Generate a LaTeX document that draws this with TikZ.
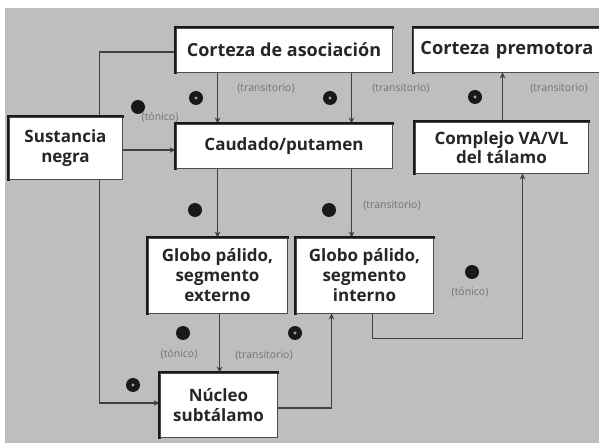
\documentclass[tikz,border=0pt]{standalone}
\usepackage{fontspec}
\setmainfont{Open Sans}
\newfontfamily\boxfont{Open Sans}
\usetikzlibrary{arrows.meta}
\pgfdeclarelayer{bglayer}
\pgfsetlayers{bglayer,main}
\definecolor{bggray}{HTML}{BEBEBE}
\tikzset{
  box/.style={fill=white, draw=black!70, line width=0.9pt, inner sep=3pt, align=center,
    font=\boxfont\bfseries\fontsize{17}{20}\selectfont, text=black!85,
    append after command={\pgfextra{\draw[black!90, line width=3pt, line cap=rect]
      (\tikzlastnode.south west) -- (\tikzlastnode.north west) -- (\tikzlastnode.north east);}}},
  conn/.style={draw=black!75, line width=1.3pt},
  arr/.style={conn, -{Stealth[length=6pt,width=5.5pt]}},
  dotm/.style={circle, fill=black!90, minimum size=14pt, inner sep=0pt},
  dotp/.style={dotm, path picture={\fill[black!35] (path picture bounding box.center) circle (1.6pt);}},
  lbl/.style={font=\fontsize{10.5}{12}\selectfont, text=black!55, inner sep=0pt}
}
\begin{document}
\begin{tikzpicture}[x=1pt,y=-1pt]
\useasboundingbox (0,0) rectangle (599,443);
\clip (0,0) rectangle (599,443);

% boxes
\node[box, minimum width=216pt, minimum height=44pt, font=\boxfont\bfseries\fontsize{18}{20}\selectfont] (ca) at (284,50) {Corteza de asociación};
\node[box, anchor=west, minimum width=200pt, minimum height=44pt, text width=186pt, align=left, inner xsep=6pt, font=\boxfont\bfseries\fontsize{18.2}{20}\selectfont] (cp) at (413,50) {Corteza premotora};
\node[box, minimum width=113pt, minimum height=62pt] (sn) at (65.5,148) {Sustancia\\negra};
\node[box, minimum width=216pt, minimum height=44pt] (cd) at (284,146) {Caudado/putamen};
\node[box, minimum width=173pt, minimum height=51pt, font=\boxfont\bfseries\fontsize{17}{19}\selectfont] (va) at (501.5,147.5) {Complejo VA/VL\\del tálamo};
\node[box, minimum width=139pt, minimum height=75pt] (ge) at (217.5,275.5) {Globo pálido,\\segmento\\externo};
\node[box, minimum width=137pt, minimum height=75pt] (gi) at (364.5,275.5) {Globo pálido,\\segmento\\interno};
\node[box, minimum width=117pt, minimum height=64pt] (stn) at (218.5,405) {Núcleo\\subtálamo};

% background and connectors (behind boxes)
\begin{pgfonlayer}{bglayer}
\fill[white] (0,0) rectangle (599,443);
\fill[bggray] (5,8) rectangle (599,443);
\draw[arr] ([xshift=42pt]ca.south west) -- ([xshift=42pt]cd.north west);
\draw[arr] ([xshift=176pt]ca.south west) -- ([xshift=176pt]cd.north west);
\draw[arr] ([xshift=88pt]va.north west) -- ([xshift=88pt]va.north west |- cp.south);
\draw[arr] ([yshift=-2pt]sn.east) -- ([yshift=-2pt]sn.east -| cd.west);
\draw[arr] ([xshift=42pt]cd.south west) -- ([xshift=42pt]cd.south west |- ge.north);
\draw[arr] ([xshift=176pt]cd.south west) -- ([xshift=176pt]cd.south west |- gi.north);
\draw[arr] ([xshift=77pt]gi.south west) -- ++(0,25) -| ([xshift=21pt]va.south);
\draw[arr] ([xshift=72pt]ge.south west) -- ([xshift=72pt]ge.south west |- stn.north);
\draw[arr] ([yshift=-3pt]stn.east) -| ([xshift=36pt]gi.south west);
\draw[arr] ([yshift=-2pt]ca.west) -- ++(-76,0) |- ([yshift=2pt]stn.west);
\end{pgfonlayer}

% markers
\node[dotp] (p1) at (196,98) {};
\node[dotp] (p2) at (330,98) {};
\node[dotp] (p3) at (475,97) {};
\node[dotp] (p4) at (295,333) {};
\node[dotp] (p5) at (133,385) {};
\node[dotm] (m1) at (138,107) {};
\node[dotm] (m2) at (195,210) {};
\node[dotm] (m3) at (329,210) {};
\node[dotm] (m4) at (472,272) {};
\node[dotm] (m5) at (183,333) {};

% labels
\node[lbl] (l1) at (266,88) {(transitorio)};
\node[lbl] (l2) at (401,88) {(transitorio)};
\node[lbl] (l3) at (559,88) {(transitorio)};
\node[lbl] (l4) at (392,205) {(transitorio)};
\node[lbl] (l5) at (264,355) {(transitorio)};
\node[lbl] (l6) at (160,117) {(tónico)};
\node[lbl] (l7) at (470,292) {(tónico)};
\node[lbl] (l8) at (179,354) {(tónico)};
\end{tikzpicture}
\end{document}
